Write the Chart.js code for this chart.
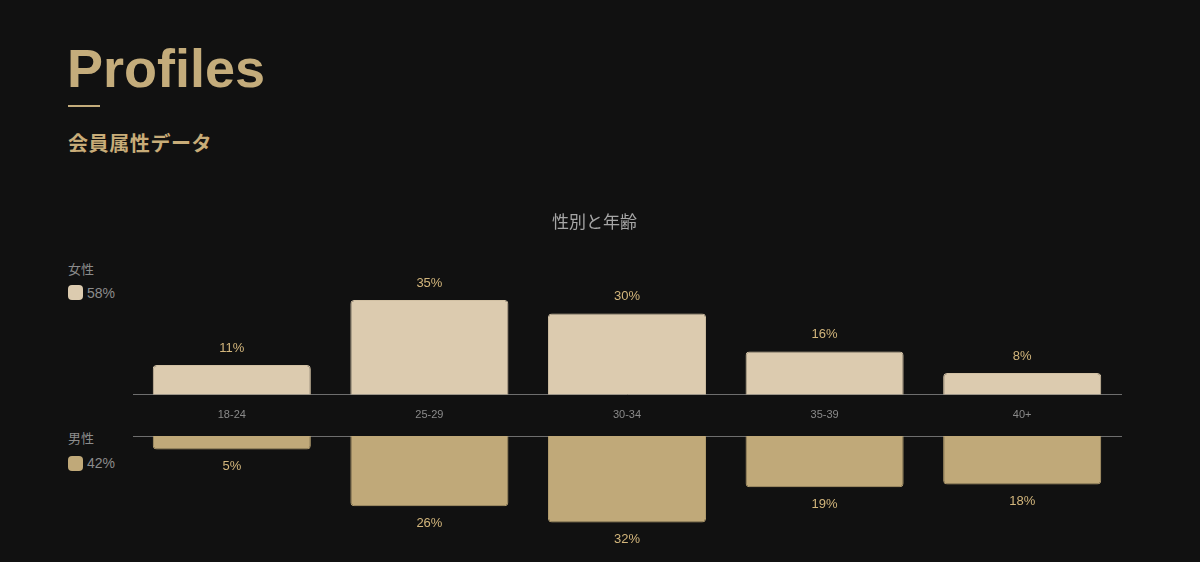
<!DOCTYPE html>
<html>
<head>
<meta charset="utf-8">
<script src="https://cdn.jsdelivr.net/npm/chart.js@4"></script>
<style>
  html,body{margin:0;padding:0;background:#111111;width:1200px;height:562px;overflow:hidden;}
  body{position:relative;font-family:"Liberation Sans","Noto Sans CJK JP",sans-serif;}
  .abs{position:absolute;white-space:nowrap;}
  #title{left:67px;top:41px;font-size:54px;line-height:54px;font-weight:bold;color:#c4ac7b;}
  #rule{left:68px;top:105px;width:32px;height:2px;background:#c4ac7b;}
  #sub{left:68px;top:133px;font-size:20px;line-height:20px;font-weight:bold;color:#c8ac78;font-family:"Noto Sans CJK JP",sans-serif;letter-spacing:0.6px;}
  .lg{font-size:13px;line-height:13px;color:#8c8c8c;font-family:"Noto Sans CJK JP",sans-serif;}
  .sw{width:15px;height:15px;border-radius:4px;}
  .pct{font-size:14px;line-height:14px;color:#8c8c8c;}
  #top{left:68px;top:200px;}
  #bot{left:68px;top:430px;}
</style>
</head>
<body>
<div id="title" class="abs">Profiles</div>
<div id="rule" class="abs"></div>
<div id="sub" class="abs">会員属性データ</div>

<div class="abs lg" style="left:68px;top:262px;">女性</div>
<div class="abs sw" style="left:68px;top:285px;background:#dccbaf;"></div>
<div class="abs pct" style="left:87px;top:286px;">58%</div>

<div class="abs lg" style="left:68px;top:431px;">男性</div>
<div class="abs sw" style="left:68px;top:456px;background:#c0a979;"></div>
<div class="abs pct" style="left:87px;top:456px;">42%</div>

<canvas id="top" class="abs"></canvas>
<canvas id="bot" class="abs"></canvas>

<script>
const categories = ["18-24", "25-29", "30-34", "35-39", "40+"];
const femaleValues = [11, 35, 30, 16, 8];
const maleValues = [5, 26, 32, 19, 18];
const chartTitle = "性別と年齢";

const FONT = "'Liberation Sans','Noto Sans CJK JP',sans-serif";
const labelColor = "#d3b67c";

const valueLabels = {
  id: "valueLabels",
  afterDatasetsDraw(chart, args, opts) {
    const ctx = chart.ctx;
    ctx.save();
    ctx.font = "13px " + FONT;
    ctx.fillStyle = labelColor;
    ctx.textAlign = "center";
    ctx.textBaseline = "middle";
    chart.getDatasetMeta(0).data.forEach((bar, i) => {
      const v = chart.data.datasets[0].data[i];
      ctx.fillText(v + "%", bar.x, bar.y + opts.offset);
    });
    ctx.restore();
  }
};

function makeChart(id, w, h, data, color, border, isTop) {
  const cv = document.getElementById(id);
  cv.width = w; cv.height = h;
  cv.style.width = w + "px";
  cv.style.height = h + "px";
  return new Chart(cv, {
    type: "bar",
    data: {
      labels: categories,
      datasets: [{
        data: data,
        backgroundColor: color,
        borderColor: border,
        borderWidth: 1,
        borderRadius: 4,
        borderSkipped: "start",
        categoryPercentage: 0.8,
        barPercentage: 1.0
      }]
    },
    options: {
      responsive: false,
      animation: false,
      devicePixelRatio: 1,
      layout: { padding: isTop ? { left: 0, right: 1, top: 0, bottom: 0 } : { left: 0, right: 1, top: 6, bottom: 18 } },
      plugins: {
        legend: { display: false },
        tooltip: { enabled: false },
        title: isTop ? {
          display: true,
          text: chartTitle,
          color: "#a6a6a6",
          font: { family: FONT, size: 17, weight: "normal" },
          padding: { top: 13, bottom: 53 }
        } : { display: false },
        valueLabels: { offset: isTop ? -17 : 17 }
      },
      scales: {
        x: {
          position: isTop ? "bottom" : "top",
          grid: { display: false, drawTicks: false, tickLength: 0 },
          border: { display: true, color: "#6e6e6e", width: 1 },
          ticks: isTop ? {
            display: true,
            color: "#8a8a8a",
            font: { family: FONT, size: 11 },
            padding: 14,
            maxRotation: 0
          } : { display: false }
        },
        y: {
          display: true,
          min: 0,
          max: 40,
          reverse: !isTop,
          grid: { display: false, drawTicks: false },
          border: { display: false },
          ticks: { display: false },
          afterFit(scale) { scale.width = 65; }
        }
      }
    },
    plugins: [valueLabels]
  });
}

makeChart("top", 1054, 236, femaleValues, "#dccbaf", "#d2c1a4", true);
makeChart("bot", 1054, 132, maleValues, "#c0a979", "#b6a070", false);
</script>
</body>
</html>
